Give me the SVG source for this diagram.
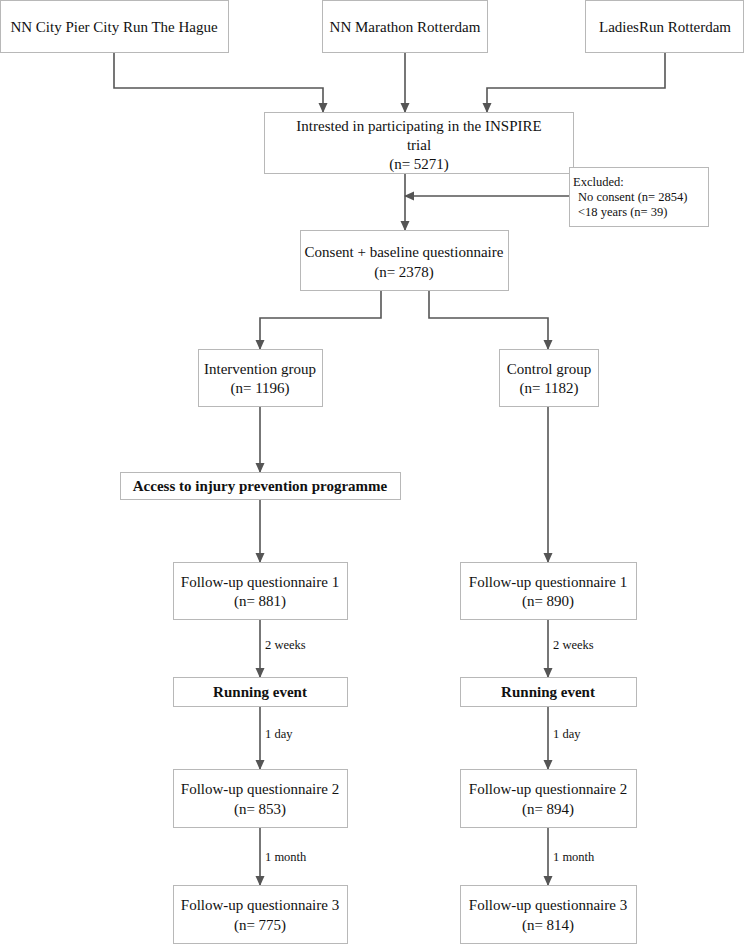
<svg xmlns="http://www.w3.org/2000/svg" width="744" height="945" viewBox="0 0 744 945">
<style>
.box{fill:#fff;stroke:#b8b8b8;stroke-width:1}
.t{font-family:"Liberation Serif","Times New Roman",serif;font-size:15px;fill:#111;text-anchor:middle}
.b{font-weight:bold}
.s{font-family:"Liberation Serif","Times New Roman",serif;font-size:12.5px;fill:#111}
.c{fill:none;stroke:#555;stroke-width:1.6}
</style>
<defs>
<marker id="ah" markerWidth="10" markerHeight="10" refX="9" refY="5" orient="auto" markerUnits="userSpaceOnUse">
<path d="M0,0.5 L10,5 L0,9.5 z" fill="#555"/>
</marker>
</defs>
<rect width="744" height="945" fill="#fff"/>
<g id="connectors">
<path class="c" d="M114,53 V88 H323 V112" marker-end="url(#ah)"/>
<path class="c" d="M405,53 V112" marker-end="url(#ah)"/>
<path class="c" d="M665,53 V88 H487 V112" marker-end="url(#ah)"/>
<path class="c" d="M405,174 V230" marker-end="url(#ah)"/>
<path class="c" d="M569,196 H405" marker-end="url(#ah)"/>
<path class="c" d="M381,291 V318 H260 V349" marker-end="url(#ah)"/>
<path class="c" d="M429,291 V318 H548 V349" marker-end="url(#ah)"/>
<path class="c" d="M260,407 V472" marker-end="url(#ah)"/>
<path class="c" d="M260,499 V562" marker-end="url(#ah)"/>
<path class="c" d="M548,407 V562" marker-end="url(#ah)"/>
<path class="c" d="M260,620 V677" marker-end="url(#ah)"/>
<path class="c" d="M548,620 V677" marker-end="url(#ah)"/>
<path class="c" d="M260,707 V769" marker-end="url(#ah)"/>
<path class="c" d="M548,707 V769" marker-end="url(#ah)"/>
<path class="c" d="M260,828 V885" marker-end="url(#ah)"/>
<path class="c" d="M548,828 V885" marker-end="url(#ah)"/>
<text class="s" x="265" y="649">2 weeks</text>
<text class="s" x="553" y="649">2 weeks</text>
<text class="s" x="265" y="738">1 day</text>
<text class="s" x="553" y="738">1 day</text>
<text class="s" x="265" y="861">1 month</text>
<text class="s" x="553" y="861">1 month</text>
</g>
<g id="src1"><rect class="box" x="0.5" y="0.5" width="228" height="52"/><text class="t" x="114" y="32">NN City Pier City Run The Hague</text></g>
<g id="src2"><rect class="box" x="322.5" y="0.5" width="165" height="52"/><text class="t" x="405" y="32">NN Marathon Rotterdam</text></g>
<g id="src3"><rect class="box" x="585.5" y="0.5" width="158" height="52"/><text class="t" x="665" y="32">LadiesRun Rotterdam</text></g>
<g id="interested"><rect class="box" x="264.5" y="112.5" width="309" height="61"/>
<text class="t" x="419" y="131">Intrested in participating in the INSPIRE</text>
<text class="t" x="419" y="150">trial</text>
<text class="t" x="419" y="169">(n= 5271)</text></g>
<g id="excluded"><rect class="box" x="569.5" y="167.5" width="139" height="59"/>
<text class="s" x="573" y="186">Excluded:</text>
<text class="s" x="578" y="201">No consent (n= 2854)</text>
<text class="s" x="578" y="216">&lt;18 years (n= 39)</text></g>
<g id="consent"><rect class="box" x="300.5" y="230.5" width="208" height="60"/>
<text class="t" x="404" y="257">Consent + baseline questionnaire</text>
<text class="t" x="404" y="277">(n= 2378)</text></g>
<g id="intervention"><rect class="box" x="198.5" y="349.5" width="124" height="57"/>
<text class="t" x="260" y="374">Intervention group</text>
<text class="t" x="260" y="393">(n= 1196)</text></g>
<g id="control"><rect class="box" x="499.5" y="349.5" width="99" height="57"/>
<text class="t" x="549" y="374">Control group</text>
<text class="t" x="549" y="393">(n= 1182)</text></g>
<g id="access"><rect class="box" x="120.5" y="472.5" width="280" height="27"/>
<text class="t b" x="260" y="491">Access to injury prevention programme</text></g>
<g id="fq1i"><rect class="box" x="173.5" y="562.5" width="174" height="57"/>
<text class="t" x="260" y="587">Follow-up questionnaire 1</text>
<text class="t" x="260" y="606">(n= 881)</text></g>
<g id="fq1c"><rect class="box" x="460.5" y="562.5" width="176" height="57"/>
<text class="t" x="548" y="587">Follow-up questionnaire 1</text>
<text class="t" x="548" y="606">(n= 890)</text></g>
<g id="runi"><rect class="box" x="173.5" y="677.5" width="174" height="29"/>
<text class="t b" x="260" y="697">Running event</text></g>
<g id="runc"><rect class="box" x="460.5" y="677.5" width="176" height="29"/>
<text class="t b" x="548" y="697">Running event</text></g>
<g id="fq2i"><rect class="box" x="173.5" y="769.5" width="174" height="58"/>
<text class="t" x="260" y="794">Follow-up questionnaire 2</text>
<text class="t" x="260" y="814">(n= 853)</text></g>
<g id="fq2c"><rect class="box" x="460.5" y="769.5" width="176" height="58"/>
<text class="t" x="548" y="794">Follow-up questionnaire 2</text>
<text class="t" x="548" y="814">(n= 894)</text></g>
<g id="fq3i"><rect class="box" x="173.5" y="885.5" width="174" height="58"/>
<text class="t" x="260" y="910">Follow-up questionnaire 3</text>
<text class="t" x="260" y="930">(n= 775)</text></g>
<g id="fq3c"><rect class="box" x="460.5" y="885.5" width="176" height="58"/>
<text class="t" x="548" y="910">Follow-up questionnaire 3</text>
<text class="t" x="548" y="930">(n= 814)</text></g>
</svg>
